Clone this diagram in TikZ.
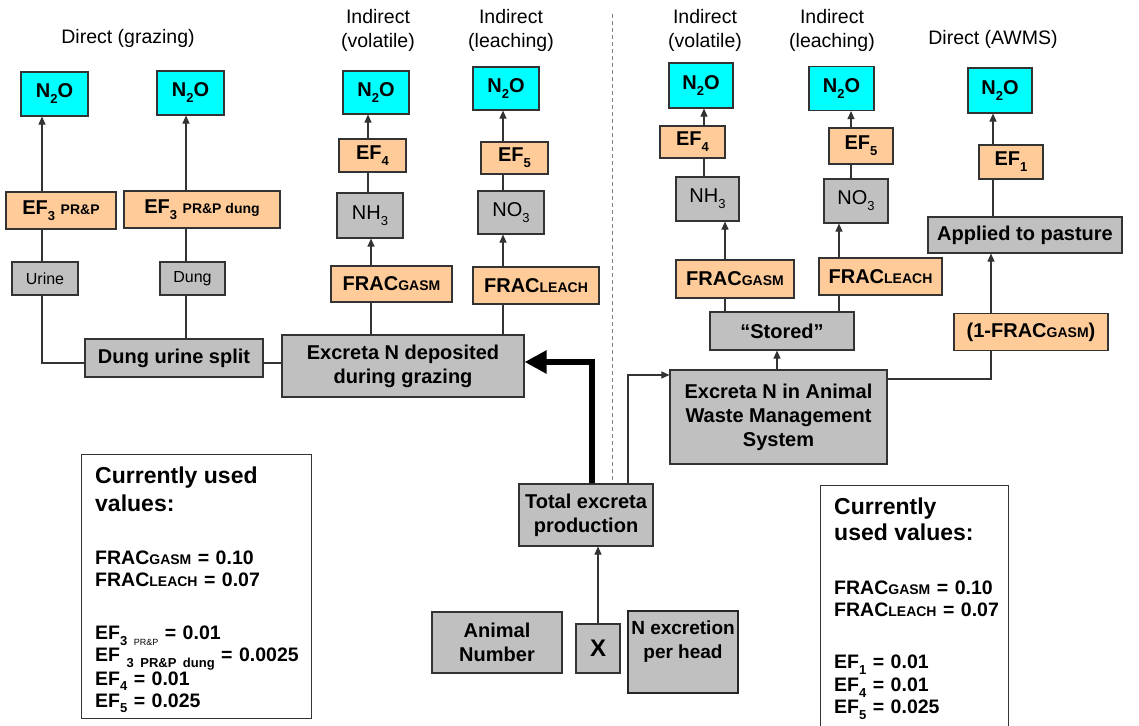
\documentclass[tikz,border=0pt]{standalone}
\usepackage{fontspec}
\setmainfont{Liberation Sans}
\usetikzlibrary{arrows.meta}
\definecolor{cyanfill}{HTML}{00FFFF}
\definecolor{orangefill}{HTML}{FFCC99}
\definecolor{grayfill}{HTML}{C0C0C0}
\definecolor{edge}{HTML}{333333}
\newcommand{\sml}[1]{{\fontsize{14}{14}\selectfont #1}}
\newcommand{\subs}[1]{\raisebox{-0.3em}{\fontsize{13}{13}\selectfont #1}}
\tikzset{
  box/.style={draw=edge, line width=1.1pt, inner sep=0pt, align=center,
    font=\bfseries\fontsize{20}{24}\selectfont},
  cbox/.style={box, fill=cyanfill},
  obox/.style={box, fill=orangefill},
  gbox/.style={box, fill=grayfill},
  smallbox/.style={draw=edge, line width=1.1pt, fill=grayfill, inner sep=0pt,
    font=\fontsize{16}{16}\selectfont},
  valbox/.style={draw=edge, line width=1.1pt, fill=white, inner sep=0pt},
  valtext/.style={align=left, inner sep=0pt, font=\bfseries\fontsize{19.5}{22}\selectfont},
  lbl/.style={align=center, font=\fontsize{19.5}{24}\selectfont, inner sep=0pt},
  conn/.style={draw=edge, line width=1.1pt},
  arr/.style={conn, -{Triangle[length=8pt,width=7pt]}},
}
\begin{document}
\begin{tikzpicture}[x=1pt,y=-1pt]
\useasboundingbox (0,0) rectangle (1139,725);

% labels
\node[lbl] (lA) at (128,38) {Direct (grazing)};
\node[lbl] (lB) at (378,30) {Indirect\\(volatile)};
\node[lbl] (lC) at (511,30) {Indirect\\(leaching)};
\node[lbl] (lD) at (705,30) {Indirect\\(volatile)};
\node[lbl] (lE) at (832,30) {Indirect\\(leaching)};
\node[lbl] (lF) at (993,39) {Direct (AWMS)};

% dashed separator
\coordinate (dTop) at (612,14);
\coordinate (dBot) at (612,481);
\draw[draw=gray, line width=1pt, dash pattern=on 4pt off 3pt] (dTop) -- (dBot);

% ---------- left side ----------
\node[cbox, minimum width=67, minimum height=44] (n2oA) at (54.5,94) {N\subs{2}O};
\node[cbox, minimum width=67, minimum height=44] (n2oB) at (190.5,93) {N\subs{2}O};
\node[obox, minimum width=110, minimum height=37] (ef3a) at (61,210.5) {EF\subs{3} \sml{PR\&P}};
\node[obox, minimum width=156, minimum height=37] (ef3b) at (202,209.5) {EF\subs{3} \sml{PR\&P dung}};
\node[smallbox, minimum width=66, minimum height=33] (urine) at (45,278.5) {Urine};
\node[smallbox, minimum width=65, minimum height=33] (dung) at (192.5,278.5) {Dung};
\node[gbox, minimum width=178, minimum height=38] (split) at (174,358) {Dung urine split};
\node[gbox, minimum width=242, minimum height=62] (grazing) at (403,366) {Excreta N deposited\\during grazing};

\node[cbox, minimum width=66, minimum height=43] (n2oC) at (376,92.5) {N\subs{2}O};
\node[obox, minimum width=67, minimum height=33] (ef4a) at (372.5,155.5) {EF\subs{4}};
\node[gbox, minimum width=66, minimum height=45] (nh3a) at (370,215.5) {\mdseries NH\subs{3}};
\node[obox, minimum width=121, minimum height=36] (fracA) at (391.5,284) {FRAC\sml{GASM}};

\node[cbox, minimum width=66, minimum height=43] (n2oD) at (506,88.5) {N\subs{2}O};
\node[obox, minimum width=67, minimum height=32] (ef5a) at (514.5,158) {EF\subs{5}};
\node[gbox, minimum width=66, minimum height=43] (no3a) at (511,212.5) {\mdseries NO\subs{3}};
\node[obox, minimum width=126, minimum height=37] (fracB) at (536,285.5) {FRAC\sml{LEACH}};

% column coordinates
\coordinate (xA) at (42,0);
\coordinate (xB) at (186,0);
\coordinate (xC) at (368,0);
\coordinate (xC2) at (371,0);
\coordinate (xD) at (503,0);
\coordinate (ySplit) at (0,363);

\draw[arr] (ef3a.north -| xA) -- (n2oA.south -| xA);
\draw[conn] (ef3a.south -| xA) -- (urine.north -| xA);
\draw[conn] (urine.south -| xA) |- (split.west |- ySplit);
\draw[arr] (ef3b.north -| xB) -- (n2oB.south -| xB);
\draw[conn] (ef3b.south -| xB) -- (dung.north -| xB);
\draw[conn] (dung.south -| xB) -- (split.north -| xB);
\draw[conn] (split.east |- ySplit) -- (grazing.west |- ySplit);

\draw[arr] (ef4a.north -| xC) -- (n2oC.south -| xC);
\draw[conn] (ef4a.south -| xC) -- (nh3a.north -| xC);
\draw[arr] (fracA.north -| xC2) -- (nh3a.south -| xC2);
\draw[conn] (fracA.south -| xC2) -- (grazing.north -| xC2);

\draw[arr] (ef5a.north -| xD) -- (n2oD.south -| xD);
\draw[conn] (ef5a.south -| xD) -- (no3a.north -| xD);
\draw[arr] (fracB.north -| xD) -- (no3a.south -| xD);
\draw[conn] (fracB.south -| xD) -- (grazing.north -| xD);

% ---------- centre ----------
\node[gbox, minimum width=134, minimum height=62] (total) at (586,515) {Total excreta\\production};
\node[gbox, minimum width=44, minimum height=49, font=\bfseries\fontsize{24}{24}\selectfont] (xbox) at (598,648.5) {X};
\node[gbox, minimum width=130, minimum height=61] (animal) at (497,642.5) {Animal\\Number};
\node[gbox, draw=black!85, line width=1.2pt, minimum width=110, minimum height=82,
  font=\bfseries\fontsize{19}{24}\selectfont] (nexc) at (683,652)
  {N excretion\\per head\rule[-24pt]{0pt}{0pt}};

\coordinate (xT) at (592,0);
\coordinate (yT) at (0,362);
\coordinate (xT2) at (628,0);
\coordinate (yT2) at (0,375);
\coordinate (xX) at (598,0);

\draw[line width=6pt, -{Triangle[length=22pt,width=22pt]}, line join=miter]
  (total.north -| xT) |- (grazing.east |- yT);
\draw[arr] (xbox.north -| xX) -- (total.south -| xX);

% ---------- right side ----------
\node[cbox, minimum width=64, minimum height=45] (n2oE) at (701,85.5) {N\subs{2}O};
\node[obox, minimum width=65, minimum height=32] (ef4b) at (692.5,142) {EF\subs{4}};
\node[gbox, minimum width=63, minimum height=44] (nh3b) at (707.5,199) {\mdseries NH\subs{3}};
\node[obox, minimum width=118, minimum height=38] (fracC) at (735,279) {FRAC\sml{GASM}};
\node[gbox, minimum width=144, minimum height=38] (stored) at (782,331) {``Stored''};
\node[gbox, minimum width=217, minimum height=94] (awms) at (778.5,417) {Excreta N in Animal\\Waste Management\\System};

\node[cbox, minimum width=65, minimum height=44] (n2oF) at (841.5,88.5) {N\subs{2}O};
\node[obox, minimum width=64, minimum height=36] (ef5b) at (861,146) {EF\subs{5}};
\node[gbox, minimum width=64, minimum height=44] (no3b) at (856,201) {\mdseries NO\subs{3}};
\node[obox, minimum width=123, minimum height=37] (fracD) at (880.5,276.5) {FRAC\sml{LEACH}};

\node[cbox, minimum width=64, minimum height=45] (n2oG) at (1000,90.5) {N\subs{2}O};
\node[obox, minimum width=64, minimum height=34] (ef1) at (1011,162) {EF\subs{1}};
\node[gbox, minimum width=194, minimum height=36] (applied) at (1025,235) {Applied to pasture};
\node[obox, minimum width=154, minimum height=37] (oneminus) at (1031,332) {(1-FRAC\sml{GASM})};

\coordinate (xE) at (704,0);
\coordinate (xE2) at (725,0);
\coordinate (xS) at (777,0);
\coordinate (xF) at (851,0);
\coordinate (xF2) at (839,0);
\coordinate (xG) at (993,0);
\coordinate (xG2) at (991,0);
\coordinate (yA) at (0,379);

\draw[arr] (total.north -| xT2) |- (awms.west |- yT2);
\draw[arr] (awms.north -| xS) -- (stored.south -| xS);
\draw[arr] (ef4b.north -| xE) -- (n2oE.south -| xE);
\draw[conn] (ef4b.south -| xE) -- (nh3b.north -| xE);
\draw[arr] (fracC.north -| xE2) -- (nh3b.south -| xE2);
\draw[conn] (fracC.south -| xE2) -- (stored.north -| xE2);
\draw[arr] (ef5b.north -| xF) -- (n2oF.south -| xF);
\draw[conn] (ef5b.south -| xF) -- (no3b.north -| xF);
\draw[arr] (fracD.north -| xF2) -- (no3b.south -| xF2);
\draw[conn] (fracD.south -| xF2) -- (stored.north -| xF2);
\draw[arr] (ef1.north -| xG) -- (n2oG.south -| xG);
\draw[conn] (applied.north -| xG) -- (ef1.south -| xG);
\draw[arr] (oneminus.north -| xG2) -- (applied.south -| xG2);
\draw[conn] (awms.east |- yA) -| (oneminus.south -| xG2);

% ---------- value boxes ----------
\node[valbox, minimum width=230, minimum height=264, anchor=north west] (valsL) at (81,454) {};
\node[valtext, text width=210, anchor=north west] (valsLtext) at (95,467)
{{\fontsize{23}{23}\selectfont Currently used}\\[6pt]
{\fontsize{23}{23}\selectfont values:}\\[31pt]
FRAC\sml{GASM} = 0.10\\
FRAC\sml{LEACH} = 0.07\\[31pt]
EF\subs{3 {\fontsize{9}{9}\selectfont\mdseries PR\&P}} = 0.01\\
EF \subs{3 PR\&P dung} = 0.0025\\
EF\subs{4} = 0.01\\
EF\subs{5} = 0.025};

\node[valbox, minimum width=188, minimum height=245, anchor=north west] (valsR) at (820,485) {};
\node[valtext, text width=170, anchor=north west] (valsRtext) at (834,498)
{{\fontsize{23}{23}\selectfont Currently}\\[4pt]
{\fontsize{23}{23}\selectfont used values:}\\[32pt]
FRAC\sml{GASM} = 0.10\\
FRAC\sml{LEACH} = 0.07\\[30pt]
EF\subs{1} = 0.01\\[0.5pt]
EF\subs{4} = 0.01\\[0.5pt]
EF\subs{5} = 0.025};
\end{tikzpicture}
\end{document}
